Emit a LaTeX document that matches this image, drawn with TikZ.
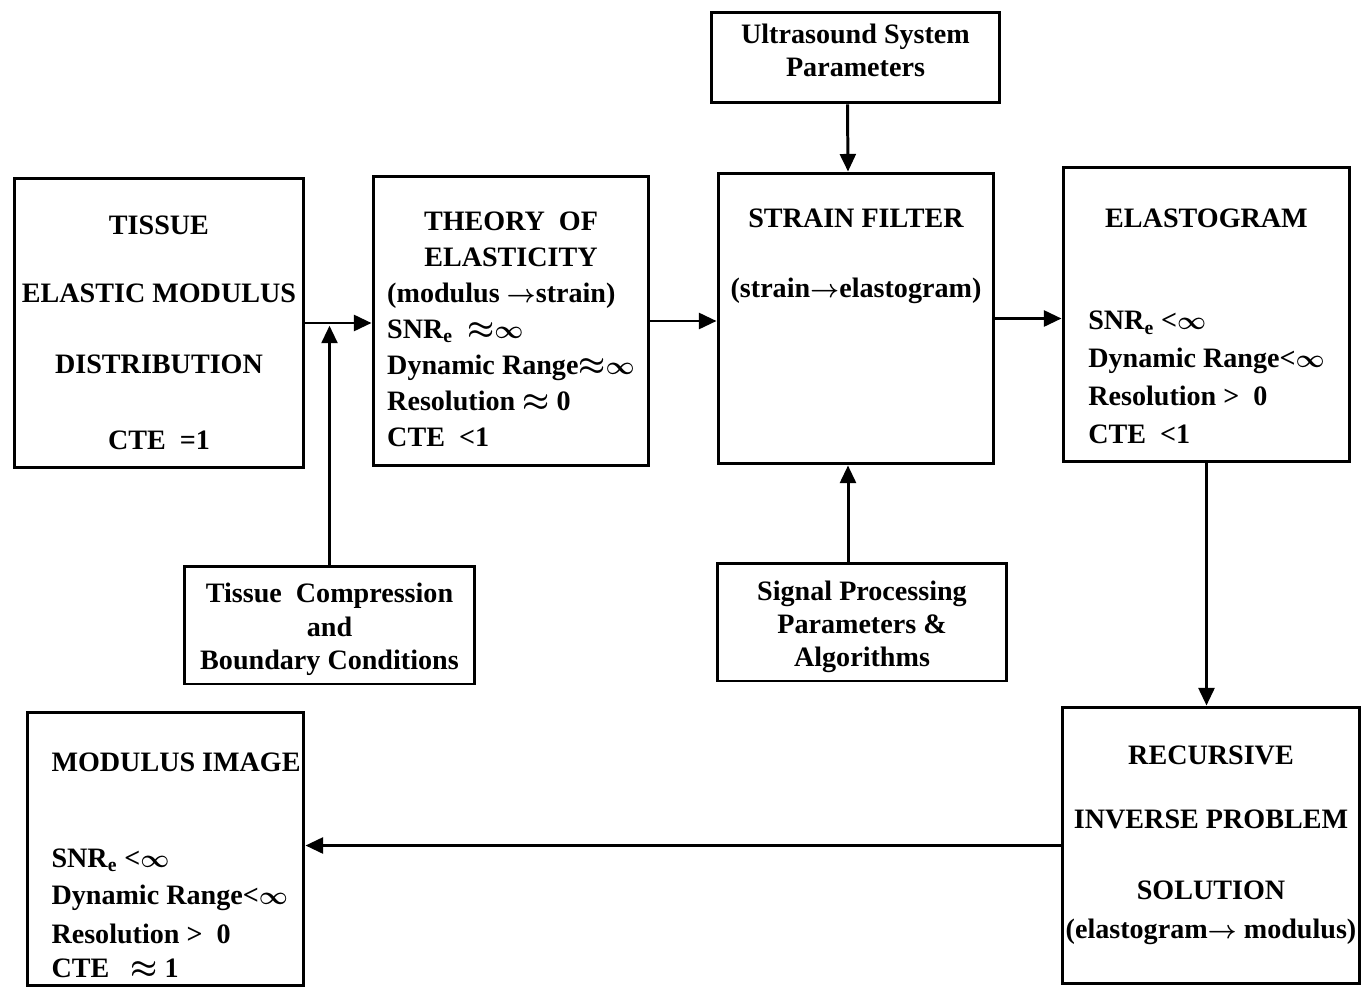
\documentclass[tikz,border=0pt]{standalone}
\usepackage{fontspec}
\setmainfont{Liberation Serif}
\usetikzlibrary{arrows.meta}

\newcommand{\infsym}{{\fontsize{15}{12}\selectfont$\infty$}}
\newcommand{\rarr}{{\fontsize{15}{12}\selectfont$\rightarrow$}}

\begin{document}
\begin{tikzpicture}[x=0.02cm, y=-0.02cm, >={Triangle[length=10pt,width=9pt]}, line width=1.7pt,
    block/.style={draw, inner sep=0pt, align=center, font=\fontsize{16}{20.5}\selectfont\bfseries\boldmath}]
    \useasboundingbox (0,0) rectangle (1363,987);

    % top row
    \node[block, minimum width=5.8cm, minimum height=5.8cm] (tissue) at (159,323)
        {\mbox{}\\[1.4pt]TISSUE\\[18pt]ELASTIC MODULUS\\[20pt]DISTRIBUTION\\[22.7pt]CTE\ \ =1};
    \node[block, minimum width=5.52cm, minimum height=5.8cm] (theory) at (511,321)
        {\begin{tabular}{@{}l@{}}
            \\[-9.2pt]
            \multicolumn{1}{@{}c@{}}{THEORY\ \ OF}\\
            \multicolumn{1}{@{}c@{}}{ELASTICITY}\\
            (modulus \rarr strain)\\
            SNR\textsubscript{e}\ \ $\approx$\infsym\\
            Dynamic Range$\approx$\infsym\\
            Resolution $\approx$ 0\\
            CTE\ \ <1
        \end{tabular}};
    \node[block, minimum width=5.52cm, minimum height=5.82cm] (strain) at (856,318.5)
        {STRAIN FILTER\\[19pt](strain\rarr elastogram)\\[54pt]\mbox{}};
    \node[block, minimum width=5.74cm, minimum height=5.9cm] (elasto) at (1206.5,314.5)
        {\begin{tabular}{@{}l@{}}
            \\[-5.2pt]
            \multicolumn{1}{@{}c@{}}{ELASTOGRAM}\\[38pt]
            SNR\textsubscript{e} <\infsym\\[1pt]
            Dynamic Range<\infsym\\[1pt]
            Resolution >\ \ 0\\[1pt]
            CTE\ \ <1
        \end{tabular}};

    % parameter boxes
    \node[block, minimum width=5.78cm, minimum height=1.82cm] (ultra) at (855.5,57.5)
        {Ultrasound System\\[-1.7pt]Parameters\\[-12.5pt]\mbox{}};
    \node[block, minimum width=5.82cm, minimum height=2.36cm] (compress) at (329.5,625)
        {\mbox{}\\[-4.2pt]Tissue\ \ Compression\\[-1.5pt]and\\[-1.5pt]Boundary Conditions};
    \node[block, minimum width=5.8cm, minimum height=2.36cm] (signal) at (862,622)
        {\mbox{}\\[-4.2pt]Signal Processing\\[-1.7pt]Parameters \&\\[-1.7pt]Algorithms};

    % bottom row
    \node[block, align=left, minimum width=5.54cm, minimum height=5.48cm] (modimg) at (165.5,849)
        {\mbox{}\\[8.8pt]\makebox[4.56cm][l]{MODULUS IMAGE}\\[34pt]SNR\textsubscript{e} <\infsym\\[0.6pt]
         \makebox[4.56cm][l]{Dynamic Range<\infsym}\\[1.7pt]Resolution >\ \ 0\\[-1pt]CTE\ \ \ $\approx$ 1};
    \node[block, minimum width=5.96cm, minimum height=5.54cm] (recur) at (1211,845.5)
        {RECURSIVE\\[16pt]INVERSE PROBLEM\\[20pt]SOLUTION\\[1.7pt](elastogram\rarr\ modulus)};

    \coordinate (join) at (compress.north |- tissue.east);
    \coordinate (feed) at ([xshift=-0.16cm]strain.south);

    \draw[->] (tissue.east) -- (theory.west |- tissue.east);
    \draw[->] (compress.north) -- ([yshift=-1.5pt]join);
    \draw[->] (theory.east) -- (strain.west |- theory.east);
    \draw[->] ([xshift=-0.16cm]ultra.south) -- ([xshift=-0.16cm]strain.north);
    \draw[->] (feed |- signal.north) -- (feed);
    \draw[->] (strain.east) -- (elasto.west |- strain.east);
    \draw[->] (elasto.south) -- (elasto.south |- recur.north);
    \draw[->] (recur.west) -- (recur.west -| modimg.east);
\end{tikzpicture}
\end{document}
